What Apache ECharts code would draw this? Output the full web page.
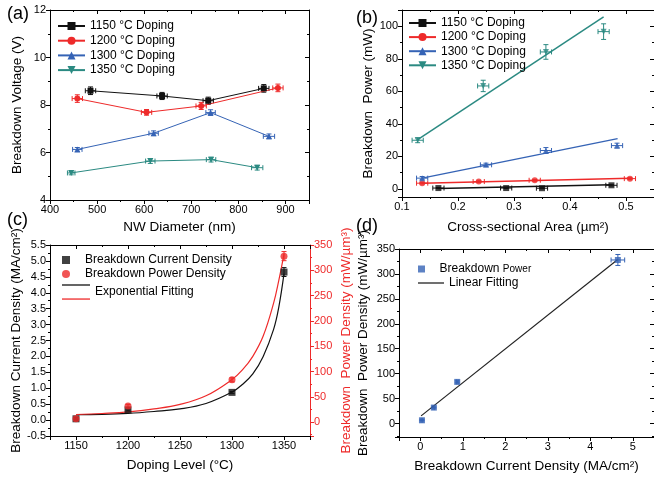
<!DOCTYPE html>
<html>
<head>
<meta charset="utf-8">
<script src="https://cdn.jsdelivr.net/npm/echarts@6/dist/echarts.min.js"></script>
<style>
html, body { margin: 0; padding: 0; background: #fff; }
#chart { width: 654px; height: 478px; }
</style>
</head>
<body>
<div id="chart"></div>
<script>
// ====== (a) 击穿电压 vs 纳米线直径 ======
const dopingNames = ['1150 °C Doping', '1200 °C Doping', '1300 °C Doping', '1350 °C Doping'];
const dopingColors = ['#111111', '#ee2a2a', '#3563b5', '#2b8a82'];
const dopingSymbols = ['rect', 'circle', 'triangle', 'path://M0,0L2,0L1,1.73Z'];

const diam1150 = [486, 638, 736, 854];
const volt1150 = [8.60, 8.38, 8.18, 8.70];
const diam1200 = [458, 605, 721, 884];
const volt1200 = [8.27, 7.69, 7.96, 8.72];
const diam1300 = [458, 620, 741, 865];
const volt1300 = [6.13, 6.81, 7.68, 6.68];
const diam1350 = [445, 613, 742, 840];
const volt1350 = [5.14, 5.64, 5.70, 5.36];
const diamErr = [[11, 11, 11, 11], [11, 11, 11, 11], [10, 10, 10, 12], [8, 10, 10, 12]];
const voltErr = [[0.16, 0.15, 0.15, 0.16], [0.16, 0.12, 0.15, 0.16], [0.08, 0.1, 0.12, 0.1], [0.08, 0.1, 0.1, 0.1]];

// ====== (b) 击穿功率 vs 截面积 ======
const area1150 = [0.165, 0.286, 0.350, 0.474];
const power1150 = [0.5, 0.5, 0.4, 2.2];
const area1200 = [0.136, 0.237, 0.337, 0.507];
const power1200 = [3.5, 4.5, 5.3, 6.3];
const area1300 = [0.136, 0.250, 0.357, 0.484];
const power1300 = [6.6, 14.8, 23.6, 26.6];
const area1350 = [0.128, 0.245, 0.357, 0.460];
const power1350 = [29.9, 63.3, 84.2, 96.7];
const areaErr = [0.01, 0.01, 0.01, 0.01];
const powerErr = [[0.3, 0.3, 0.3, 0.4], [0.5, 0.5, 0.5, 0.6], [1.0, 1.0, 1.8, 1.5], [1.5, 3.5, 4.5, 4.8]];
// 线性拟合两端
const fitArea = [[0.165, 0.474], [0.136, 0.507], [0.136, 0.485], [0.128, 0.460]];
const fitPower = [[0.2, 2.6], [3.5, 6.6], [6.6, 30.9], [30.3, 105.7]];

// ====== (c) 击穿电流/功率密度 vs 掺杂温度 ======
const dopingLevels = [1150, 1200, 1300, 1350];
const currentDensity = [0.04, 0.32, 0.87, 4.65];
const currentErr = [0.03, 0.03, 0.03, 0.14];
const powerDensity = [6.5, 32, 83.5, 328];
const powerDensityErr = [2, 3, 4, 9];
// 指数拟合曲线（读图取点）
const fitLevels = [1150, 1175, 1200, 1225, 1250, 1275, 1300, 1310, 1320, 1330, 1340, 1345, 1350];
const fitCurrent = [0.17, 0.18, 0.21, 0.27, 0.35, 0.52, 0.88, 1.12, 1.45, 2.0, 2.85, 3.55, 4.6];
const fitPowerDensity = [15, 17, 20, 26, 35, 52, 84, 103, 130, 170, 235, 280, 332];

// ====== (d) 功率密度 vs 电流密度 ======
const currentDensityErr = [0.02, 0.02, 0.02, 0.16];
const powerDensityErrD = [1, 1, 2, 11];
const linFitCurrent = [0.02, 4.64];
const linFitPower = [15.4, 328.5];

const FONT = '"Liberation Sans", Arial, sans-serif';
const TICK_SIZE = 11;
const NAME_SIZE = 13.5;
const RED = '#ee2a2a';
const SQUARE = 'path://M0,0h10v10h-10z';
const DOT = 'path://M5,0A5,5,0,1,1,5,10A5,5,0,1,1,5,0z';

const pts = (xs, ys) => xs.map((x, i) => [x, ys[i]]);
const errPts = (xs, ys, exs, eys) => xs.map((x, i) => [x, ys[i], exs[i], eys[i]]);

function renderErrorBar(params, api) {
  const x = api.value(0), y = api.value(1), ex = api.value(2), ey = api.value(3);
  const style = { stroke: api.visual('color'), lineWidth: 1 };
  const cap = 2.5;
  const kids = [];
  const seg = (a, b) => kids.push({ type: 'line', shape: { x1: a[0], y1: a[1], x2: b[0], y2: b[1] }, style });
  if (ex > 0) {
    const l = api.coord([x - ex, y]), r = api.coord([x + ex, y]);
    seg(l, r);
    seg([l[0], l[1] - cap], [l[0], l[1] + cap]);
    seg([r[0], r[1] - cap], [r[0], r[1] + cap]);
  }
  if (ey > 0) {
    const t = api.coord([x, y + ey]), b = api.coord([x, y - ey]);
    seg(t, b);
    seg([t[0] - cap, t[1]], [t[0] + cap, t[1]]);
    seg([b[0] - cap, b[1]], [b[0] + cap, b[1]]);
  }
  return { type: 'group', children: kids };
}

function errSeries(xi, yi, data, color) {
  return {
    type: 'custom', xAxisIndex: xi, yAxisIndex: yi, renderItem: renderErrorBar,
    itemStyle: { color }, encode: { x: 0, y: 1 }, data, z: 3, silent: true
  };
}

function labels(c, extra) {
  return Object.assign({ color: c, fontSize: TICK_SIZE, fontFamily: FONT, margin: 4 }, extra);
}
function mainAxis(extra, color) {
  const c = color || '#000';
  return Object.assign({
    type: 'value',
    axisLine: { show: true, onZero: false, lineStyle: { color: c, width: 1 } },
    axisTick: { show: true, inside: false, length: 4, lineStyle: { color: c } },
    minorTick: { show: true, splitNumber: 2, length: 2, lineStyle: { color: c } },
    splitLine: { show: false },
    axisLabel: labels(c),
    nameLocation: 'middle',
    nameTextStyle: { color: c, fontSize: NAME_SIZE, fontFamily: FONT }
  }, extra);
}
function mirrorAxis(extra) {
  return Object.assign({
    type: 'value',
    axisLine: { show: true, onZero: false, lineStyle: { color: '#000', width: 1 } },
    axisTick: { show: true, inside: true, length: 4, lineStyle: { color: '#000' } },
    minorTick: { show: true, splitNumber: 2, length: 2, lineStyle: { color: '#000' } },
    splitLine: { show: false },
    axisLabel: { show: false }
  }, extra);
}

const aDiam = [diam1150, diam1200, diam1300, diam1350];
const aVolt = [volt1150, volt1200, volt1300, volt1350];
const bArea = [area1150, area1200, area1300, area1350];
const bPower = [power1150, power1200, power1300, power1350];

const series = [];
// (a)
dopingNames.forEach((name, i) => {
  series.push({
    name, type: 'line', xAxisIndex: 0, yAxisIndex: 0,
    data: pts(aDiam[i], aVolt[i]),
    symbol: dopingSymbols[i], symbolSize: 6,
    itemStyle: { color: dopingColors[i] },
    lineStyle: { color: dopingColors[i], width: 1 }, z: 4
  });
  series.push(errSeries(0, 0, errPts(aDiam[i], aVolt[i], diamErr[i], voltErr[i]), dopingColors[i]));
});
// (b)
dopingNames.forEach((name, i) => {
  series.push({
    name, type: 'scatter', xAxisIndex: 2, yAxisIndex: 2,
    data: pts(bArea[i], bPower[i]),
    symbol: dopingSymbols[i], symbolSize: 6,
    itemStyle: { color: dopingColors[i] }, z: 4
  });
  series.push({
    name: 'fit ' + name, type: 'line', xAxisIndex: 2, yAxisIndex: 2,
    data: pts(fitArea[i], fitPower[i]), showSymbol: false, symbol: 'none',
    lineStyle: { color: dopingColors[i], width: 1.5 }, z: 2
  });
  series.push(errSeries(2, 2, errPts(bArea[i], bPower[i], areaErr, powerErr[i]), dopingColors[i]));
});
// (c)
series.push({
  name: 'Breakdown Current Density', type: 'scatter', xAxisIndex: 4, yAxisIndex: 4,
  data: pts(dopingLevels, currentDensity), symbol: 'rect', symbolSize: 7,
  itemStyle: { color: '#111' }, z: 4
});
series.push(errSeries(4, 4, errPts(dopingLevels, currentDensity, [0, 0, 0, 0], currentErr), '#111'));
series.push({
  name: 'Breakdown Power Density', type: 'scatter', xAxisIndex: 4, yAxisIndex: 5,
  data: pts(dopingLevels, powerDensity), symbol: 'circle', symbolSize: 7,
  itemStyle: { color: RED }, z: 4
});
series.push(errSeries(4, 5, errPts(dopingLevels, powerDensity, [0, 0, 0, 0], powerDensityErr), RED));
series.push({
  name: 'Exponential Fitting', type: 'line', xAxisIndex: 4, yAxisIndex: 4,
  data: pts(fitLevels, fitCurrent), smooth: 0.4, showSymbol: false, symbol: 'none',
  itemStyle: { color: '#111' }, lineStyle: { color: '#111', width: 1.2 }, z: 3
});
series.push({
  name: 'Exponential Fitting red', type: 'line', xAxisIndex: 4, yAxisIndex: 5,
  data: pts(fitLevels, fitPowerDensity), smooth: 0.4, showSymbol: false, symbol: 'none',
  itemStyle: { color: RED }, lineStyle: { color: RED, width: 1.2 }, z: 3
});
// (d)
series.push({
  name: 'Breakdown Power', type: 'scatter', xAxisIndex: 6, yAxisIndex: 6,
  data: pts(currentDensity, powerDensity), symbol: 'rect', symbolSize: 6,
  itemStyle: { color: '#3563b5' }, z: 4
});
series.push(errSeries(6, 6, errPts(currentDensity, powerDensity, currentDensityErr, powerDensityErrD), '#3563b5'));
series.push({
  name: 'Linear Fitting', type: 'line', xAxisIndex: 6, yAxisIndex: 6,
  data: pts(linFitCurrent, linFitPower), showSymbol: false, symbol: 'none',
  itemStyle: { color: '#222' }, lineStyle: { color: '#222', width: 1.2 }, z: 3
});

const legendText = { fontSize: 12, fontFamily: FONT, color: '#000' };
const lineLegend = (names, left, top, extra) => Object.assign({
  data: names.map(name => ({ name, icon: 'rect' })), orient: 'vertical', left, top,
  itemWidth: 28, itemHeight: 1.3, padding: 0, selectedMode: false, textStyle: legendText
}, extra);

const option = {
  animation: false,
  backgroundColor: '#fff',
  grid: [
    { left: 50, top: 10, width: 259, height: 190 },
    { left: 402, top: 10, width: 254, height: 187 },
    { left: 50, top: 245, width: 260, height: 191 },
    { left: 399, top: 249, width: 255, height: 188 }
  ],
  xAxis: [
    mainAxis({ gridIndex: 0, min: 400, max: 950, splitNumber: 5, name: 'NW Diameter (nm)', nameGap: 20,
      axisLabel: labels('#000', { showMaxLabel: false }) }),
    mirrorAxis({ gridIndex: 0, position: 'top', min: 400, max: 950, splitNumber: 5 }),
    mainAxis({ gridIndex: 1, min: 0.1, max: 0.55, splitNumber: 4, name: 'Cross-sectional Area (µm²)', nameGap: 23,
      axisLabel: labels('#000', { showMaxLabel: false }) }),
    mirrorAxis({ gridIndex: 1, position: 'top', min: 0.1, max: 0.55, splitNumber: 4 }),
    mainAxis({ gridIndex: 2, min: 1125, max: 1375, splitNumber: 5, name: 'Doping Level (°C)', nameGap: 22,
      axisLabel: labels('#000', { showMinLabel: false, showMaxLabel: false, formatter: v => String(v) }) }),
    mirrorAxis({ gridIndex: 2, position: 'top', min: 1125, max: 1375, splitNumber: 5 }),
    mainAxis({ gridIndex: 3, min: -0.5, max: 5.5, splitNumber: 6, name: 'Breakdown Current Density (MA/cm²)', nameGap: 22,
      axisLabel: labels('#000', { showMinLabel: false, showMaxLabel: false }) }),
    mirrorAxis({ gridIndex: 3, position: 'top', min: -0.5, max: 5.5, splitNumber: 6 })
  ],
  yAxis: [
    mainAxis({ gridIndex: 0, min: 4, max: 12, splitNumber: 4, name: 'Breakdown Voltage (V)', nameGap: 26 }),
    mirrorAxis({ gridIndex: 0, position: 'right', min: 4, max: 12, splitNumber: 4 }),
    mainAxis({ gridIndex: 1, min: -5, max: 110, splitNumber: 5, name: 'Breakdown  Power (mW)', nameGap: 26,
      axisLabel: labels('#000', { showMinLabel: false, showMaxLabel: false }) }),
    mirrorAxis({ gridIndex: 1, position: 'right', min: -5, max: 110, splitNumber: 5 }),
    mainAxis({ gridIndex: 2, min: -0.5, max: 5.5, splitNumber: 12, name: 'Breakdown Current Density (MA/cm²)', nameGap: 26,
      axisLabel: labels('#000', { formatter: v => v.toFixed(1) }) }),
    mainAxis({ gridIndex: 2, position: 'right', min: -27.5, max: 350, splitNumber: 7,
      name: 'Breakdown  Power Density (mW/µm³)', nameGap: 29, nameRotate: 90,
      axisLabel: labels(RED, { showMinLabel: false }) }, RED),
    mainAxis({ gridIndex: 3, min: -27, max: 350, splitNumber: 7, name: 'Breakdown  Power Density (mW/µm³)', nameGap: 29,
      axisLabel: labels('#000', { showMinLabel: false }) }),
    mirrorAxis({ gridIndex: 3, position: 'right', min: -27, max: 350, splitNumber: 7 })
  ],
  legend: [
    { data: dopingNames, orient: 'vertical', left: 57, top: 20, itemWidth: 27, itemHeight: 10, itemGap: 2.7,
      padding: 0, selectedMode: false, textStyle: legendText },
    { data: dopingNames, orient: 'vertical', left: 408, top: 17, itemWidth: 27, itemHeight: 10, itemGap: 2.1,
      padding: 0, selectedMode: false, textStyle: legendText },
    { data: [{ name: 'Breakdown Current Density', icon: SQUARE }, { name: 'Breakdown Power Density', icon: DOT }],
      orient: 'vertical', left: 62, top: 254, itemWidth: 28, itemHeight: 8, itemGap: 2, symbolKeepAspect: true,
      padding: 0, selectedMode: false, textStyle: legendText },
    // 图例文字落在黑、红两条拟合线之间
    lineLegend(['Exponential Fitting'], 62, 271, {
      formatter: n => ' \n' + n,
      textStyle: Object.assign({}, legendText, { lineHeight: 14 }) }),
    lineLegend(['Exponential Fitting red'], 62, 298.4, { formatter: () => '' }),
    { data: [{ name: 'Breakdown Power', icon: SQUARE }],
      formatter: () => '{a|Breakdown} {b|Power}',
      orient: 'vertical', left: 418, top: 263, itemWidth: 26, itemHeight: 7, symbolKeepAspect: true,
      padding: 0, selectedMode: false,
      textStyle: Object.assign({}, legendText, { rich: { a: { fontSize: 12, fontFamily: FONT }, b: { fontSize: 10, fontFamily: FONT } } }) },
    lineLegend(['Linear Fitting'], 418, 277, { itemWidth: 26 })
  ],
  graphic: [
    { type: 'text', left: 7, top: 5, style: { text: '(a)', fontSize: 18, fontFamily: FONT, fill: '#000' } },
    { type: 'text', left: 356, top: 9, style: { text: '(b)', fontSize: 18, fontFamily: FONT, fill: '#000' } },
    { type: 'text', left: 7, top: 211, style: { text: '(c)', fontSize: 18, fontFamily: FONT, fill: '#000' } },
    { type: 'text', left: 356, top: 217, style: { text: '(d)', fontSize: 18, fontFamily: FONT, fill: '#000' } }
  ],
  series
};

const chart = echarts.init(document.getElementById('chart'));
chart.setOption(option);
</script>
</body>
</html>
